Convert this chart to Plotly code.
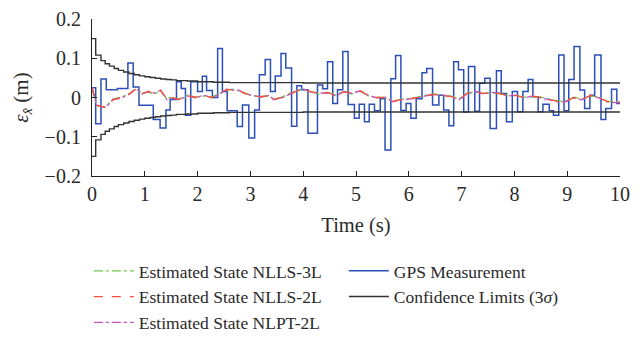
import plotly.graph_objects as go

# GPS measurement (step function)
gps_t = [0.00, 0.07, 0.17, 0.27, 0.48, 0.68, 0.78, 0.89, 1.16, 1.29, 1.40, 1.48, 1.60, 1.69, 1.77, 1.87,
         2.00, 2.09, 2.17, 2.28, 2.38, 2.47, 2.56, 2.75, 2.85, 2.97, 3.08, 3.17, 3.28, 3.38, 3.47, 3.58,
         3.67, 3.78, 3.88, 3.97, 4.09, 4.27, 4.37, 4.46, 4.56, 4.65, 4.75, 4.85, 4.97, 5.06, 5.16, 5.25,
         5.35, 5.46, 5.55, 5.66, 5.75, 5.85, 5.95, 6.04, 6.14, 6.25, 6.34, 6.45, 6.57, 6.66, 6.76, 6.85,
         6.94, 7.04, 7.13, 7.25, 7.34, 7.44, 7.54, 7.66, 7.75, 7.85, 7.96, 8.06, 8.16, 8.26, 8.35, 8.45,
         8.54, 8.66, 8.74, 8.84, 8.94, 9.03, 9.13, 9.24, 9.33, 9.43, 9.52, 9.64, 9.73, 9.84, 9.94, 10.00]
gps_v = [0.025, -0.067, 0.047, 0.020, 0.023, 0.088, 0.027, -0.020, -0.056, -0.078, -0.032, -0.005, 0.040, 0.023, -0.045, 0.040,
         0.015, 0.054, 0.018, 0.000, 0.125, 0.015, -0.034, -0.074, -0.019, -0.103, -0.032, 0.058, 0.097, 0.015, 0.055, 0.112,
         0.075, -0.073, 0.030, 0.020, -0.091, 0.032, 0.022, 0.091, -0.015, 0.020, 0.117, -0.018, -0.053, -0.017, -0.062, -0.017,
         -0.034, -0.003, -0.134, 0.048, 0.107, -0.033, -0.015, -0.053, -0.003, 0.063, 0.074, -0.019, 0.006, -0.032, -0.072, 0.091,
         0.071, -0.037, 0.079, -0.035, 0.036, 0.049, -0.079, 0.068, 0.010, -0.062, 0.015, -0.036, 0.015, 0.046, 0.002, -0.036,
         -0.017, -0.034, -0.045, 0.108, -0.034, 0.046, 0.130, 0.019, -0.028, 0.006, 0.108, -0.056, -0.028, 0.021, -0.015, -0.015]

# Confidence limits (3 sigma), upper bound; lower bound is its negative
conf_t = [0, 0.07, 0.17, 0.25, 0.33, 0.42, 0.5, 0.6, 0.7, 0.8, 0.9, 1.0, 1.1, 1.2, 1.3, 1.4, 1.5, 1.6,
          1.8, 2.0, 2.3, 2.6, 3.0, 4.0, 10.0]
conf_v = [0.150, 0.108, 0.094, 0.086, 0.080, 0.074, 0.069, 0.065, 0.061, 0.058, 0.055, 0.053, 0.051, 0.049,
          0.047, 0.046, 0.045, 0.043, 0.042, 0.040, 0.039, 0.038, 0.038, 0.037, 0.037]

# Estimated states
est_t = [0, 0.09, 0.25, 0.40, 0.56, 0.72, 0.83, 0.95, 1.07, 1.18, 1.30, 1.42, 1.50, 1.65, 1.81, 1.96, 2.12,
         2.27, 2.43, 2.55, 2.66, 2.78, 2.90, 3.05, 3.21, 3.36, 3.44, 3.60, 3.75, 3.99, 4.14, 4.30, 4.46, 4.61,
         4.77, 4.92, 5.08, 5.23, 5.39, 5.55, 5.70, 5.86, 6.01, 6.17, 6.32, 6.48, 6.64, 6.79, 6.95, 7.10, 7.26,
         7.41, 7.57, 7.73, 7.88, 8.04, 8.19, 8.35, 8.50, 8.66, 8.82, 8.97, 9.13, 9.28, 9.44, 9.60, 9.75, 9.91, 10.0]
nlls2l = [0.025, -0.020, -0.025, -0.005, 0.000, 0.010, 0.022, 0.010, 0.015, 0.010, 0.018, -0.005, 0.000, -0.005,
          0.005, 0.000, 0.005, 0.000, 0.010, 0.020, 0.020, 0.018, 0.010, 0.005, 0.002, 0.005, -0.005, 0.000, 0.010,
          0.022, 0.015, 0.010, 0.013, 0.005, 0.015, 0.010, 0.017, 0.005, 0.000, 0.000, -0.010, -0.005, -0.003, 0.000,
          0.005, 0.008, 0.005, 0.003, -0.005, 0.010, 0.015, 0.010, 0.012, 0.010, 0.005, 0.005, 0.000, 0.003, 0.000,
          -0.005, -0.010, -0.010, 0.000, -0.005, 0.005, 0.000, -0.010, -0.012, -0.012]
nlls3l = [0.024, -0.021, -0.024, -0.004, 0.001, 0.011, 0.021, 0.011, 0.014, 0.009, 0.017, -0.004, 0.001, -0.004,
          0.006, 0.001, 0.004, 0.001, 0.011, 0.019, 0.021, 0.017, 0.011, 0.004, 0.003, 0.004, -0.004, 0.001, 0.011,
          0.021, 0.016, 0.009, 0.014, 0.006, 0.016, 0.009, 0.018, 0.004, 0.001, -0.001, -0.009, -0.004, -0.002, 0.001,
          0.006, 0.009, 0.004, 0.004, -0.004, 0.011, 0.014, 0.011, 0.011, 0.009, 0.006, 0.004, 0.001, 0.002, 0.001,
          -0.004, -0.009, -0.009, 0.001, -0.004, 0.004, 0.001, -0.009, -0.011, -0.011]
nlpt2l = [0.026, -0.019, -0.026, -0.006, -0.001, 0.009, 0.023, 0.009, 0.016, 0.011, 0.019, -0.006, -0.001, -0.006,
          0.004, -0.001, 0.006, -0.001, 0.009, 0.021, 0.019, 0.019, 0.009, 0.006, 0.001, 0.006, -0.006, -0.001, 0.009,
          0.023, 0.014, 0.011, 0.012, 0.004, 0.014, 0.011, 0.016, 0.006, -0.001, 0.001, -0.011, -0.006, -0.004, -0.001,
          0.004, 0.007, 0.006, 0.002, -0.006, 0.009, 0.016, 0.009, 0.013, 0.011, 0.004, 0.006, -0.001, 0.004, -0.001,
          -0.006, -0.011, -0.011, -0.001, -0.006, 0.006, -0.001, -0.011, -0.013, -0.013]

x_ticks = list(range(0, 11))
y_ticks = [-0.2, -0.1, 0, 0.1, 0.2]
y_ticktext = ["\u22120.2", "\u22120.1", "0", "0.1", "0.2"]

FONT = "Liberation Serif, Times New Roman, serif"
TXT = "#2a2a2a"

fig = go.Figure()
fig.add_trace(go.Scatter(x=gps_t, y=gps_v, mode="lines", line=dict(color="#2b4fb8", width=1.5, shape="hv"),
                         name="GPS Measurement", legendrank=2))
fig.add_trace(go.Scatter(x=conf_t, y=conf_v, mode="lines", line=dict(color="#333333", width=1.4, shape="hv"),
                         name="Confidence Limits (3<i>σ</i>)", legendrank=4, legendgroup="conf"))
fig.add_trace(go.Scatter(x=conf_t, y=[-v for v in conf_v], mode="lines",
                         line=dict(color="#333333", width=1.4, shape="hv"),
                         name="Confidence Limits (3<i>σ</i>)", showlegend=False, legendgroup="conf"))
fig.add_trace(go.Scatter(x=est_t, y=nlls3l, mode="lines", line=dict(color="#6cc84a", width=1.3, dash="dashdot"),
                         name="Estimated State NLLS-3L", legendrank=1))
fig.add_trace(go.Scatter(x=est_t, y=nlpt2l, mode="lines", line=dict(color="#c84fc4", width=1.3, dash="dashdot"),
                         name="Estimated State NLPT-2L", legendrank=5))
fig.add_trace(go.Scatter(x=est_t, y=nlls2l, mode="lines", line=dict(color="#f5503c", width=1.3, dash="dash"),
                         name="Estimated State NLLS-2L", legendrank=3))

# The page body has an 8 px default margin, so the figure is sized and placed to compensate.
fig.update_layout(
    width=632, height=333,
    margin=dict(l=84, r=20, t=11, b=165, autoexpand=False),
    paper_bgcolor="white", plot_bgcolor="white",
    font=dict(family=FONT, size=18, color=TXT),
    showlegend=True,
    legend=dict(orientation="h", x=-0.006, y=-0.49, xanchor="left", yanchor="top",
                entrywidth=200, entrywidthmode="pixels", traceorder="normal",
                font=dict(family=FONT, size=17.5, color=TXT), bgcolor="rgba(0,0,0,0)",
                itemwidth=40),
    xaxis=dict(range=[0, 10], tickvals=x_ticks, ticks="inside", ticklen=5, tickcolor="#222222",
               tickfont=dict(family=FONT, size=20, color=TXT),
               showline=True, linecolor="#222222", linewidth=1.2, showgrid=False, zeroline=False,
               title=dict(text="Time (s)", standoff=13, font=dict(family=FONT, size=20.5, color=TXT))),
    yaxis=dict(range=[-0.2, 0.2], tickvals=y_ticks, ticktext=y_ticktext, ticks="inside", ticklen=5,
               tickfont=dict(family=FONT, size=20, color=TXT), ticklabelstandoff=6,
               tickcolor="#222222", showline=True, linecolor="#222222", linewidth=1.2, showgrid=False,
               zeroline=False,
               title=dict(text="<i>ε</i><sub><i>x̂</i></sub> (m)", standoff=10,
                          font=dict(family=FONT, size=21, color=TXT))),
)

fig.write_html("out.html")
